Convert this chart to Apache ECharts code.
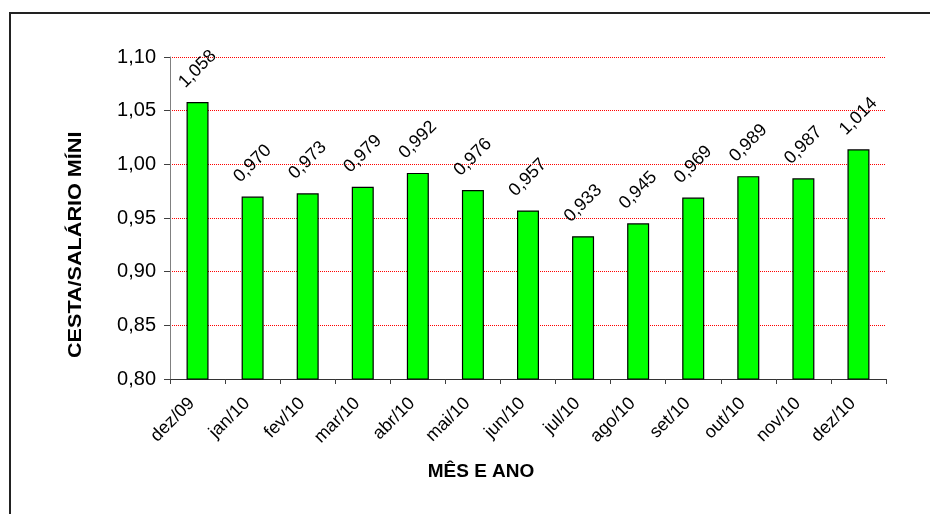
<!DOCTYPE html>
<html>
<head>
<meta charset="utf-8">
<script src="https://cdn.jsdelivr.net/npm/echarts@6/dist/echarts.min.js"></script>
<style>
  html, body { margin: 0; padding: 0; background: #fff; }
  #chart { width: 930px; height: 514px; }
</style>
</head>
<body>
<div id="chart"></div>
<script>
const categories = ['dez/09', 'jan/10', 'fev/10', 'mar/10', 'abr/10', 'mai/10', 'jun/10', 'jul/10', 'ago/10', 'set/10', 'out/10', 'nov/10', 'dez/10'];
const ratioValues = [1.058, 0.970, 0.973, 0.979, 0.992, 0.976, 0.957, 0.933, 0.945, 0.969, 0.989, 0.987, 1.014];
const yAxisTitle = 'CESTA/SALÁRIO MÍNIMO';
const xAxisTitle = 'MÊS E ANO';

const fmt = (v, d) => v.toFixed(d).replace('.', ',');
const FONT = '"Liberation Sans", Arial, sans-serif';

const chart = echarts.init(document.getElementById('chart'), null, { renderer: 'canvas' });
chart.setOption({
  animation: false,
  backgroundColor: '#ffffff',
  textStyle: { fontFamily: FONT },
  grid: { left: 170, top: 57, right: 44, bottom: 135, containLabel: false },
  xAxis: {
    type: 'category',
    data: categories,
    boundaryGap: true,
    axisLine: { show: true, lineStyle: { color: '#333333', width: 1 } },
    axisTick: { show: true, length: 5, alignWithLabel: false, lineStyle: { color: '#404040' } },
    axisLabel: { rotate: 45, fontSize: 18, color: '#000', margin: 16, padding: [0, 8, 0, 0], fontFamily: FONT },
    splitLine: { show: false }
  },
  yAxis: {
    type: 'value',
    min: 0.80,
    max: 1.10,
    interval: 0.05,
    axisLine: { show: true, lineStyle: { color: '#808080', width: 1 } },
    axisTick: { show: true, length: 6, lineStyle: { color: '#404040' } },
    axisLabel: { fontSize: 20, color: '#000', margin: 14, fontFamily: FONT, formatter: v => fmt(v, 2) },
    splitLine: { show: true, lineStyle: { color: '#ff0000', type: 'dotted', width: 1 } }
  },
  series: [{
    type: 'bar',
    data: ratioValues,
    barWidth: 22,
    itemStyle: { color: '#00ff00', borderColor: '#000', borderWidth: 1.2 },
    label: {
      show: true,
      position: 'top',
      distance: 33,
      rotate: 45,
      align: 'center',
      verticalAlign: 'middle',
      fontSize: 18,
      color: '#000',
      fontFamily: FONT,
      formatter: p => fmt(p.value, 3)
    }
  }],
  graphic: [
    {
      type: 'rect',
      shape: { x: 10, y: 13, width: 940, height: 530 },
      style: { fill: 'none', stroke: '#222', lineWidth: 2 },
      silent: true
    },
    {
      type: 'text',
      x: 76,
      y: 358,
      rotation: Math.PI / 2,
      scaleX: 1.2,
      style: {
        text: yAxisTitle,
        font: 'bold 18px ' + FONT,
        fill: '#000',
        align: 'left',
        verticalAlign: 'middle',
        width: 206,
        overflow: 'truncate',
        ellipsis: ''
      }
    },
    {
      type: 'text',
      x: 481,
      y: 472,
      style: {
        text: xAxisTitle,
        font: 'bold 19px ' + FONT,
        fill: '#000',
        align: 'center',
        verticalAlign: 'middle'
      }
    }
  ]
});
</script>
</body>
</html>
